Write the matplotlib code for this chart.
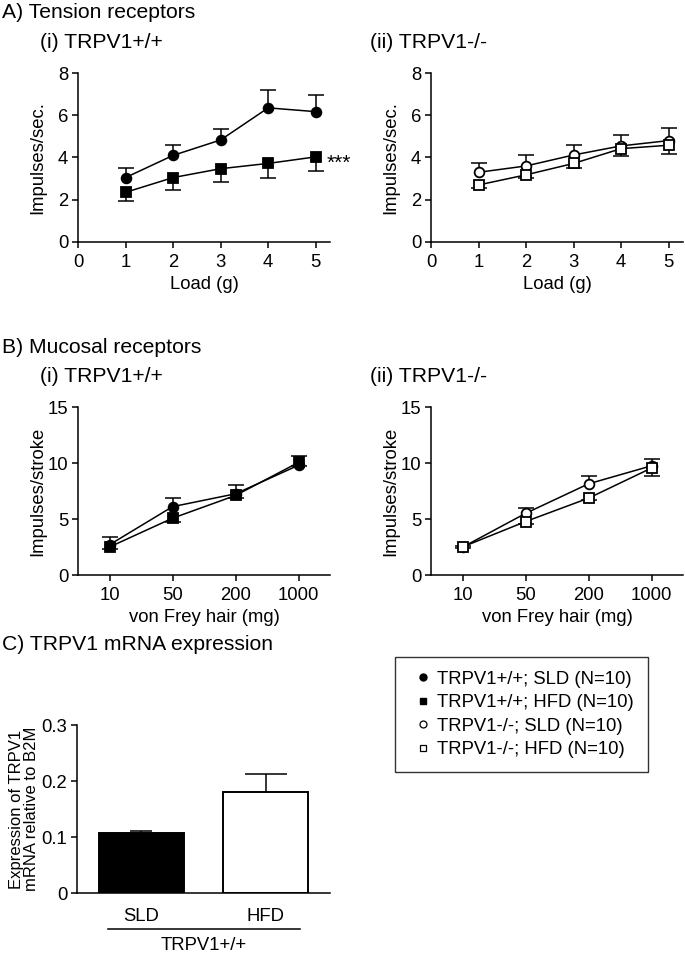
import numpy as np
import matplotlib
matplotlib.use("Agg")
import matplotlib.pyplot as plt
from matplotlib.lines import Line2D

plt.rcParams['font.family'] = ['Liberation Sans', 'DejaVu Sans']
plt.rcParams['font.size'] = 13.3

W, H = 685, 955

# A) tension receptors, load in g
load = [1, 2, 3, 4, 5]
wt_sld = [3.05, 4.1, 4.83, 6.35, 6.17]
wt_sld_err = [0.47, 0.5, 0.52, 0.85, 0.78]
wt_hfd = [2.35, 3.05, 3.47, 3.72, 4.03]
wt_hfd_err = [0.4, 0.6, 0.62, 0.67, 0.65]
ko_sld = [3.3, 3.6, 4.12, 4.55, 4.8]
ko_sld_err = [0.42, 0.5, 0.48, 0.53, 0.6]
ko_hfd = [2.7, 3.18, 3.72, 4.42, 4.58]
ko_hfd_err = [0.15, 0.13, 0.22, 0.37, 0.43]

# B) mucosal receptors, von Frey hair
vf_labels = ['10', '50', '200', '1000']
mwt_sld = [2.7, 6.1, 7.25, 9.8]
mwt_sld_err = [0.67, 0.76, 0.8, 0.8]
mwt_hfd = [2.5, 5.07, 7.1, 10.05]
mwt_hfd_err = [0.2, 0.3, 0.25, 0.3]
mko_sld = [2.48, 5.5, 8.14, 9.75]
mko_sld_err = [0.1, 0.47, 0.66, 0.65]
mko_hfd = [2.5, 4.77, 6.86, 9.55]
mko_hfd_err = [0.1, 0.2, 0.15, 0.7]

# C) mRNA expression
groups = ['SLD', 'HFD']
mrna = [0.107, 0.18]
mrna_err = [0.004, 0.032]
cap_w = [16.5, 30]


def px_axes(l, t, r, b):
    return fig.add_axes([l / W, 1 - b / H, (r - l) / W, (b - t) / H])


def style(ax):
    for s in ['top', 'right']:
        ax.spines[s].set_visible(False)
    for s in ['left', 'bottom']:
        ax.spines[s].set_linewidth(1.1)
    ax.tick_params(direction='out', length=4, width=1.1, labelsize=13.3, pad=3)
    ax.tick_params(axis='x', pad=4.5)


def series(ax, x, y, err, marker, filled, up):
    x = np.asarray(x, float)
    y = np.asarray(y, float)
    err = np.asarray(err, float)
    end = y + err if up else y - err
    ax.vlines(x, y, end, color='k', lw=1.1, zorder=2)
    ax.plot(x, end, ls='none', marker='_', ms=11, mew=1.1, color='k', zorder=2)
    ax.plot(x, y, color='k', lw=1.1, marker=marker, ms=7,
            mfc='k' if filled else 'white', mec='k', mew=1.3, zorder=3, clip_on=False)


fig = plt.figure(figsize=(W / 100, H / 100), dpi=100)

# ---- A panels
axA1 = px_axes(78, 73, 330, 242)
axA2 = px_axes(431, 73, 683, 242)
series(axA1, load, wt_sld, wt_sld_err, 'o', True, True)
series(axA1, load, wt_hfd, wt_hfd_err, 's', True, False)
series(axA2, load, ko_sld, ko_sld_err, 'o', False, True)
series(axA2, load, ko_hfd, ko_hfd_err, 's', False, False)
for ax in [axA1, axA2]:
    style(ax)
    ax.set_xlim(0, 5.3)
    ax.set_ylim(0, 8)
    ax.set_xticks(range(0, 6))
    ax.set_yticks(range(0, 9, 2))
    ax.set_xlabel('Load (g)', labelpad=4)
    ax.set_ylabel('Impulses/sec.')
    ax.yaxis.set_label_coords(-0.125, 0.5)
axA1.annotate('***', xy=(load[-1], wt_hfd[-1]), xytext=(8, -5),
              textcoords='offset points', ha='left', va='center',
              fontsize=15, annotation_clip=False)

# ---- B panels
axB1 = px_axes(78, 407, 330, 575)
axB2 = px_axes(431, 407, 683, 575)
xb = np.arange(len(vf_labels))
series(axB1, xb, mwt_sld, mwt_sld_err, 'o', True, True)
series(axB1, xb, mwt_hfd, mwt_hfd_err, 's', True, False)
series(axB2, xb, mko_sld, mko_sld_err, 'o', False, True)
series(axB2, xb, mko_hfd, mko_hfd_err, 's', False, False)
for ax in [axB1, axB2]:
    style(ax)
    ax.set_xlim(-0.5, 3.5)
    ax.set_ylim(0, 15)
    ax.set_xticks(xb)
    ax.set_xticklabels(vf_labels)
    ax.set_yticks([0, 5, 10, 15])
    ax.set_xlabel('von Frey hair (mg)', labelpad=4)
    ax.set_ylabel('Impulses/stroke')
    ax.yaxis.set_label_coords(-0.125, 0.5)

# ---- C panel
axC = px_axes(77, 725, 330, 893)
style(axC)
xc = np.arange(len(groups))
axC.bar(xc, mrna, width=0.68, color=['black', 'white'], edgecolor='black', lw=1.4, zorder=2)
for i in range(len(groups)):
    axC.vlines(xc[i], mrna[i], mrna[i] + mrna_err[i], color='k', lw=1.1, zorder=1)
    axC.plot(xc[i], mrna[i] + mrna_err[i], marker='_', ms=cap_w[i], mew=1.1, color='k', zorder=1)
axC.set_xlim(-0.52, 1.52)
axC.set_ylim(0, 0.3)
axC.set_yticks([0, 0.1, 0.2, 0.3])
axC.set_yticklabels(['0', '0.1', '0.2', '0.3'])
axC.set_xticks(xc)
axC.set_xticklabels(groups)
axC.tick_params(axis='x', length=0, pad=11)
axC.set_ylabel('Expression of TRPV1\nmRNA relative to B2M', fontsize=12, linespacing=1.0)
axC.yaxis.set_label_coords(-0.15, 0.5)
axC.plot([-0.27, 1.28], [-0.214, -0.214], color='k', lw=1.1,
         transform=axC.get_xaxis_transform(), clip_on=False)
axC.text(0.5, -0.31, 'TRPV1+/+', transform=axC.get_xaxis_transform(),
         ha='center', va='center', fontsize=13.3)

# ---- titles
fig.text(2 / W, 1 - 13 / H, 'A) Tension receptors', fontsize=15.2, va='center')
fig.text(40 / W, 1 - 42 / H, '(i) TRPV1+/+', fontsize=15.2, va='center')
fig.text(370 / W, 1 - 42 / H, '(ii) TRPV1-/-', fontsize=15.2, va='center')
fig.text(2 / W, 1 - 347 / H, 'B) Mucosal receptors', fontsize=15.2, va='center')
fig.text(40 / W, 1 - 377 / H, '(i) TRPV1+/+', fontsize=15.2, va='center')
fig.text(370 / W, 1 - 377 / H, '(ii) TRPV1-/-', fontsize=15.2, va='center')
fig.text(2 / W, 1 - 645 / H, 'C) TRPV1 mRNA expression', fontsize=15.2, va='center')

# ---- legend
handles = [
    Line2D([], [], ls='none', marker='o', ms=5, mfc='k', mec='k'),
    Line2D([], [], ls='none', marker='s', ms=5, mfc='k', mec='k'),
    Line2D([], [], ls='none', marker='o', ms=5, mfc='white', mec='k', mew=0.9),
    Line2D([], [], ls='none', marker='s', ms=5, mfc='white', mec='k', mew=0.9),
]
labels = ['TRPV1+/+; SLD (N=10)', 'TRPV1+/+; HFD (N=10)',
          'TRPV1-/-; SLD (N=10)', 'TRPV1-/-; HFD (N=10)']
leg = fig.legend(handles, labels, loc='upper left', bbox_to_anchor=(395 / W, 1 - 657 / H),
                 frameon=True, fancybox=False, edgecolor='k', handlelength=1.5,
                 handletextpad=0.05, labelspacing=0.35, borderpad=0.75, borderaxespad=0,
                 fontsize=13.3)
leg.get_frame().set_linewidth(1.0)

fig.savefig('out.png', dpi=100)
